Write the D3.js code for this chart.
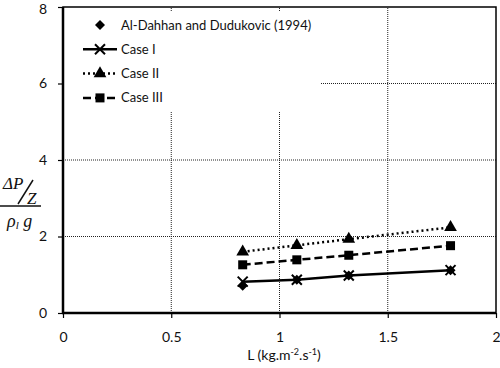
<!DOCTYPE html>
<html>
<head>
<meta charset="utf-8">
<script src="https://cdn.jsdelivr.net/npm/d3@7"></script>
<style>
  body { margin: 0; background: #fff; }
  text { font-family: Lato, "Liberation Sans", sans-serif; }
</style>
</head>
<body>
<div id="chart"></div>
<script>
// values
var flowRates = [0.83, 1.08, 1.32, 1.79];
var experimental = [0.71, 0.87, 0.98, 1.12];
var caseI = [0.82, 0.87, 0.98, 1.12];
var caseII = [1.60, 1.77, 1.93, 2.24];
var caseIII = [1.26, 1.39, 1.51, 1.76];
var xTicks = [0, 0.5, 1, 1.5, 2];
var yTicks = [0, 2, 4, 6, 8];

var width = 500, height = 368;
var margin = {left: 63, right: 4, top: 7, bottom: 55};

var svg = d3.select("#chart").append("svg")
    .attr("width", width)
    .attr("height", height);

var x = d3.scaleLinear().domain([0, 2]).range([margin.left, width - margin.right]);
var y = d3.scaleLinear().domain([0, 8]).range([height - margin.bottom, margin.top]);

// grid
var grid = svg.append("g")
    .attr("stroke", "#222")
    .attr("stroke-width", 1)
    .attr("stroke-dasharray", "1,1");

grid.selectAll("line.v")
    .data(xTicks.slice(1, -1))
    .enter().append("line")
    .attr("x1", d => x(d)).attr("x2", d => x(d))
    .attr("y1", y(0)).attr("y2", y(8));

grid.selectAll("line.h")
    .data(yTicks.slice(1, -1))
    .enter().append("line")
    .attr("x1", x(0)).attr("x2", x(2))
    .attr("y1", d => y(d)).attr("y2", d => y(d));

// frame
svg.append("rect")
    .attr("x", x(0)).attr("y", y(8))
    .attr("width", x(2) - x(0)).attr("height", y(0) - y(8))
    .attr("fill", "none").attr("stroke", "#000").attr("stroke-width", 1.5);

svg.append("line").attr("x1", x(0)).attr("x2", x(0)).attr("y1", y(8)).attr("y2", y(0))
    .attr("stroke", "#000").attr("stroke-width", 2.5);
svg.append("line").attr("x1", x(0) - 1).attr("x2", x(2)).attr("y1", y(0)).attr("y2", y(0))
    .attr("stroke", "#000").attr("stroke-width", 2.5);

// axes
var xAxis = svg.append("g")
    .attr("transform", "translate(0," + y(0) + ")")
    .call(d3.axisBottom(x).tickValues(xTicks).tickFormat(d => d).tickSize(5).tickPadding(14));
var yAxis = svg.append("g")
    .attr("transform", "translate(" + x(0) + ",0)")
    .call(d3.axisLeft(y).tickValues(yTicks).tickSize(5).tickPadding(11));

[xAxis, yAxis].forEach(function(ax) {
  ax.select(".domain").remove();
  ax.selectAll(".tick line").attr("stroke", "#000").attr("stroke-width", 1.2);
  ax.selectAll(".tick text").attr("font-size", 14).attr("fill", "#111");
});
// keep the top label inside the page
yAxis.selectAll(".tick text").filter(d => d === 8).attr("dy", "0.45em");

// series
var lines = [
  {name: "Case I", values: caseI, dash: null, marker: "cross"},
  {name: "Case II", values: caseII, dash: "2,3", marker: "triangle"},
  {name: "Case III", values: caseIII, dash: "8,4", marker: "square"}
];

var line = d3.line()
    .x((d, i) => x(flowRates[i]))
    .y(d => y(d));

function drawMarker(g, type, cx, cy) {
  if (type === "cross") {
    g.append("path")
      .attr("d", "M" + (cx - 5) + "," + (cy - 5) + "L" + (cx + 5) + "," + (cy + 5) +
                 "M" + (cx - 5) + "," + (cy + 5) + "L" + (cx + 5) + "," + (cy - 5))
      .attr("stroke", "#000").attr("stroke-width", 2);
  } else if (type === "triangle") {
    g.append("path")
      .attr("d", d3.symbol().type(d3.symbolTriangle).size(70)())
      .attr("transform", "translate(" + cx + "," + cy + ")")
      .attr("fill", "#000");
  } else if (type === "square") {
    g.append("rect")
      .attr("x", cx - 4.5).attr("y", cy - 4.5)
      .attr("width", 9).attr("height", 9)
      .attr("fill", "#000");
  } else if (type === "diamond") {
    g.append("path")
      .attr("d", d3.symbol().type(d3.symbolSquare).size(50)())
      .attr("transform", "translate(" + cx + "," + cy + ") rotate(45)")
      .attr("fill", "#000");
  }
}

var series = svg.append("g");
lines.forEach(function(s) {
  series.append("path")
    .datum(s.values)
    .attr("d", line)
    .attr("fill", "none")
    .attr("stroke", "#000")
    .attr("stroke-width", 2.5)
    .attr("stroke-dasharray", s.dash);
  s.values.forEach(function(v, i) {
    drawMarker(series, s.marker, x(flowRates[i]), y(v));
  });
});

experimental.forEach(function(v, i) {
  drawMarker(series, "diamond", x(flowRates[i]), y(v));
});

// legend
var legend = svg.append("g");
legend.append("rect")
    .attr("x", x(0) + 2).attr("y", 12)
    .attr("width", 256).attr("height", 100)
    .attr("fill", "#fff");

var legendItems = [
  {label: "Al-Dahhan and Dudukovic (1994)", marker: "diamond", dash: null, line: false},
  {label: "Case I", marker: "cross", dash: null, line: true},
  {label: "Case II", marker: "triangle", dash: "2,3", line: true},
  {label: "Case III", marker: "square", dash: "8,4", line: true}
];

legendItems.forEach(function(d, i) {
  var cy = 25 + i * 24.3;
  if (d.line) {
    legend.append("line")
      .attr("x1", 83).attr("x2", 117).attr("y1", cy).attr("y2", cy)
      .attr("stroke", "#000").attr("stroke-width", 2.5)
      .attr("stroke-dasharray", d.dash);
  }
  drawMarker(legend, d.marker, 100, cy);
  legend.append("text")
    .attr("x", 121).attr("y", cy)
    .attr("dy", "0.35em")
    .attr("font-size", 13)
    .attr("fill", "#111")
    .text(d.label);
});

// y-axis label: (ΔP/Z) / (ρl g)
var ylab = svg.append("g")
    .attr("font-style", "italic")
    .attr("fill", "#111");
ylab.append("text").attr("x", 3).attr("y", 189).attr("font-size", 17)
    .style("font-family", "'Liberation Serif', serif").text("ΔP");
ylab.append("line").attr("x1", 18).attr("y1", 204).attr("x2", 33).attr("y2", 180)
    .attr("stroke", "#111").attr("stroke-width", 1.5);
ylab.append("text").attr("x", 27).attr("y", 204).attr("font-size", 17)
    .style("font-family", "'Liberation Serif', serif").text("Z");
ylab.append("line").attr("x1", 0).attr("x2", 41).attr("y1", 206).attr("y2", 206)
    .attr("stroke", "#111").attr("stroke-width", 1.5);
var rho = ylab.append("text").attr("x", 7).attr("y", 227).attr("font-size", 18)
    .style("font-family", "'Liberation Serif', serif");
rho.append("tspan").text("ρ");
rho.append("tspan").attr("font-size", 11).attr("dy", 2).text("l");
rho.append("tspan").attr("dy", -2).text(" g");

// x-axis label
var xlab = svg.append("text")
    .attr("x", 284).attr("y", 360)
    .attr("text-anchor", "middle")
    .attr("font-size", 14)
    .attr("fill", "#111");
xlab.append("tspan").text("L (kg.m");
xlab.append("tspan").attr("font-size", 9).attr("dy", -5).text("-2");
xlab.append("tspan").attr("dy", 5).text(".s");
xlab.append("tspan").attr("font-size", 9).attr("dy", -5).text("-1");
xlab.append("tspan").attr("dy", 5).text(")");
</script>
</body>
</html>
